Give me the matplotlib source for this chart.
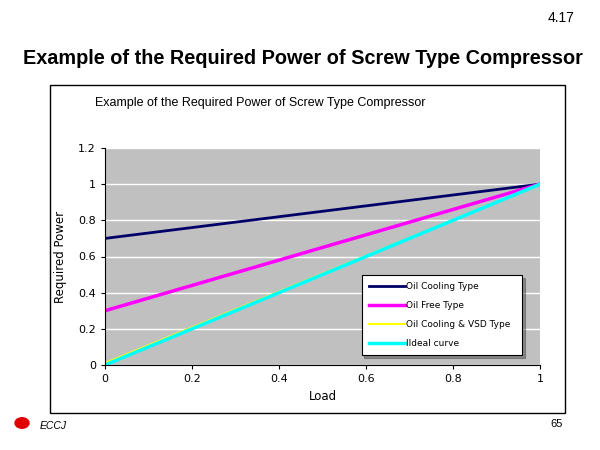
import matplotlib
matplotlib.use("Agg")
import matplotlib.pyplot as plt
from matplotlib.patches import Rectangle, Circle

load = [0, 1]
oil_cooling = [0.7, 1.0]
oil_free = [0.3, 1.0]
vsd = [0.01, 1.0]
ideal = [0.0, 1.0]
names = ["Oil Cooling Type", "Oil Free Type", "Oil Cooling & VSD Type", "IIdeal curve"]
colors = ["#000066", "#ff00ff", "#ffff00", "#00ffff"]

W, H = 600, 450
fig = plt.figure(figsize=(6, 4.5), dpi=100)
fig.patch.set_facecolor("white")
fig.text(575/W, 1-18/H, "4.17", ha="right", va="center", fontsize=10, family="Liberation Sans")
fig.text(303/W, 1-58/H, "Example of the Required Power of Screw Type Compressor",
         ha="center", va="center", fontsize=14.3, fontweight="bold", family="Liberation Sans")
fig.patches.append(Rectangle((50/W, 1-413/H), 515/W, 328/H, transform=fig.transFigure,
                             fill=False, edgecolor="black", lw=1))
fig.text(95/W, 1-103/H, "Example of the Required Power of Screw Type Compressor",
         ha="left", va="center", fontsize=9, family="Liberation Sans")
ax = fig.add_axes([105/W, 1-365/H, 435/W, 217/H])
ax.set_facecolor("#c0c0c0")
ax.plot(load, oil_cooling, color=colors[0], lw=2, label=names[0])
ax.plot(load, oil_free, color=colors[1], lw=2.5, label=names[1])
ax.plot(load, vsd, color=colors[2], lw=1.5, label=names[2])
ax.plot(load, ideal, color=colors[3], lw=2.5, label=names[3])
ax.set_xlim(0, 1); ax.set_ylim(0, 1.2)
ax.set_xticks([0, 0.2, 0.4, 0.6, 0.8, 1]); ax.set_xticklabels(["0", "0.2", "0.4", "0.6", "0.8", "1"])
ax.set_yticks([0, 0.2, 0.4, 0.6, 0.8, 1, 1.2]); ax.set_yticklabels(["0", "0.2", "0.4", "0.6", "0.8", "1", "1.2"])
ax.grid(axis="y", color="white", lw=1)
ax.set_axisbelow(True)
ax.tick_params(labelsize=8, length=3)
for s in ["top", "right"]:
    ax.spines[s].set_visible(False)
ax.set_xlabel("Load", fontsize=8.5, labelpad=4)
ax.set_ylabel("Required Power", fontsize=8.5, labelpad=8)
leg = ax.legend(loc="lower left", bbox_to_anchor=((357-105)/435, (365-360)/217, 170/435, 75/217),
                mode="expand", fontsize=6.5, frameon=True, fancybox=False, edgecolor="black",
                handlelength=4, handletextpad=0.1, labelspacing=1.1, borderpad=0.8, shadow=True)
leg.get_frame().set_linewidth(0.8)
leg.get_frame().set_facecolor("white")
fig.patches.append(Circle((22/W, 1-423/H), 7/W, transform=fig.transFigure, color="#e00000"))
fig.text(40/W, 1-426/H, "ECCJ", fontsize=7.5, style="italic", va="center", family="Liberation Sans")
fig.text(563/W, 1-424/H, "65", fontsize=8, ha="right", va="center", family="Liberation Sans")
fig.savefig("out.png", dpi=100)
